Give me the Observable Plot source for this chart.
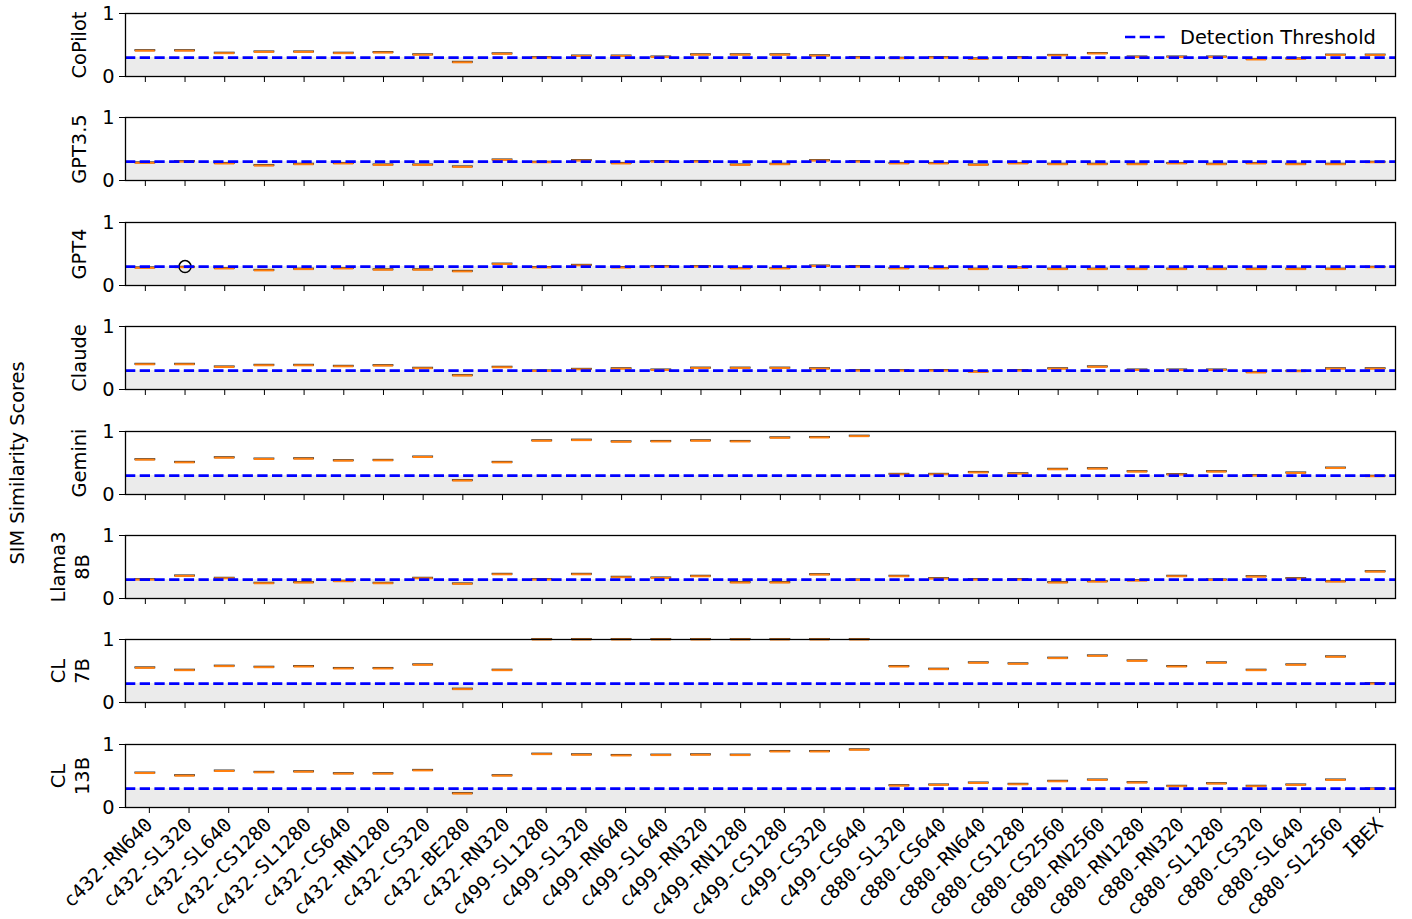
<!DOCTYPE html>
<html>
<head>
<meta charset="utf-8">
<script src="https://cdn.jsdelivr.net/npm/d3@7"></script>
<script src="https://cdn.jsdelivr.net/npm/@observablehq/plot@0.6"></script>
<style>
  html, body { margin: 0; padding: 0; background: white; }
  #root { position: relative; width: 1412px; height: 919px; overflow: hidden; font-family: "DejaVu Sans", sans-serif; }
  .panel { position: absolute; left: 0; }
  svg g[aria-label="x-axis tick label"] { font-family: "DejaVu Sans Mono", monospace; }
  #ylab { position: absolute; left: 17px; top: 463px; transform: translate(-50%, -50%) rotate(-90deg); white-space: nowrap; font-size: 19.4px; color: black; }
  #legend { position: absolute; left: 1122px; top: 24px; display: flex; align-items: center; font-size: 19.4px; }
</style>
</head>
<body>
<div id="root">
  <div id="ylab">SIM Similarity Scores</div>
</div>
<script>
const categories = ["c432-RN640","c432-SL320","c432-SL640","c432-CS1280","c432-SL1280","c432-CS640","c432-RN1280","c432-CS320","c432-BE280","c432-RN320","c499-SL1280","c499-SL320","c499-RN640","c499-SL640","c499-RN320","c499-RN1280","c499-CS1280","c499-CS320","c499-CS640","c880-SL320","c880-CS640","c880-RN640","c880-CS1280","c880-CS2560","c880-RN2560","c880-RN1280","c880-RN320","c880-SL1280","c880-CS320","c880-SL640","c880-SL2560","IBEX"];

const models = ["CoPilot","GPT3.5","GPT4","Claude","Gemini","Llama3\n8B","CL\n7B","CL\n13B"];

const copilot = [0.41,0.41,0.37,0.39,0.39,0.37,0.38,0.345,0.225,0.36,0.30,0.325,0.325,0.31,0.345,0.345,0.345,0.33,0.30,0.29,0.30,0.28,0.30,0.335,0.365,0.31,0.31,0.31,0.27,0.28,0.34,0.34];
const gpt35 = [0.28,0.30,0.27,0.237,0.258,0.27,0.247,0.247,0.216,0.326,0.29,0.316,0.27,0.30,0.30,0.247,0.258,0.316,0.30,0.27,0.27,0.247,0.27,0.258,0.258,0.258,0.27,0.258,0.27,0.258,0.258,0.29];
const gpt4 = [0.28,0.29,0.27,0.24,0.26,0.27,0.25,0.25,0.224,0.34,0.286,0.32,0.285,0.30,0.30,0.27,0.27,0.31,0.30,0.27,0.27,0.26,0.28,0.26,0.26,0.26,0.26,0.26,0.26,0.26,0.26,0.29];
const claude = [0.40,0.40,0.358,0.384,0.384,0.368,0.379,0.337,0.221,0.353,0.295,0.32,0.33,0.31,0.34,0.34,0.34,0.33,0.30,0.30,0.30,0.28,0.30,0.33,0.36,0.31,0.31,0.31,0.27,0.29,0.33,0.33];
const gemini = [0.553,0.51,0.584,0.563,0.568,0.537,0.542,0.595,0.221,0.51,0.853,0.863,0.837,0.842,0.853,0.842,0.90,0.905,0.926,0.32,0.32,0.35,0.33,0.40,0.41,0.363,0.316,0.363,0.30,0.342,0.42,0.29];
const llama3 = [0.30,0.358,0.321,0.242,0.253,0.274,0.242,0.321,0.232,0.384,0.30,0.384,0.337,0.326,0.353,0.253,0.253,0.379,0.295,0.353,0.316,0.30,0.30,0.253,0.268,0.284,0.353,0.295,0.347,0.316,0.268,0.426];
const cl7b = [0.55,0.513,0.577,0.56,0.571,0.54,0.54,0.598,0.212,0.513,1.0,1.0,1.0,1.0,1.0,1.0,1.0,1.0,1.0,0.571,0.529,0.63,0.614,0.704,0.74,0.661,0.571,0.63,0.513,0.598,0.725,0.30];
const cl13b = [0.547,0.505,0.579,0.558,0.568,0.537,0.537,0.589,0.221,0.505,0.847,0.837,0.826,0.832,0.837,0.832,0.889,0.889,0.916,0.347,0.358,0.389,0.368,0.416,0.437,0.395,0.337,0.379,0.337,0.358,0.437,0.295];

const seriesList = [copilot, gpt35, gpt4, claude, gemini, llama3, cl7b, cl13b];

// outliers (fliers)
const outlierModels = ["GPT4"];
const outlierCats = ["c432-SL320"];
const outlierValues = [0.30];

const threshold = 0.3;
const yTicks = [0, 1];
const boxHalf = 0.008;

const root = document.getElementById("root");
const step = 104.4;
const frameTop0 = 13;
const mTop = 10;

models.forEach((model, i) => {
  const last = i === models.length - 1;
  const vals = seriesList[i];
  const data = categories.map((c, j) => ({cat: c, v: vals[j]}));
  const outs = outlierModels.map((m, k) => ({m, cat: outlierCats[k], v: outlierValues[k]})).filter(d => d.m === model);
  const mBottom = last ? 113 : 31;
  const height = mTop + 63 + mBottom;
  const multi = model.includes("\n");
  const chart = Plot.plot({
    width: 1412,
    height,
    marginLeft: 125,
    marginRight: 17,
    marginTop: mTop,
    marginBottom: mBottom,
    style: {fontFamily: "DejaVu Sans", fontSize: "19.4px", background: "transparent", overflow: "visible", color: "black"},
    x: {type: "band", domain: categories, paddingInner: 0.5, paddingOuter: 0.25, round: false},
    y: {domain: [0, 1]},
    marks: [
      Plot.barY([threshold], {y1: 0, y2: d => d, fill: "#ebebeb"}),
      Plot.barY(data, {x: "cat", y1: d => d.v - boxHalf, y2: d => d.v + boxHalf, fill: "none", stroke: "#333", strokeWidth: 1}),
      Plot.tickY(data, {x: "cat", y: "v", stroke: "#ff7f0e", strokeWidth: 2}),
      Plot.dot(outs, {x: "cat", y: "v", r: 6, stroke: "black", fill: "none", strokeWidth: 1.5}),
      Plot.ruleY([threshold], {stroke: "blue", strokeWidth: 2.7, strokeDasharray: "10.3,4.4"}),
      Plot.frame({stroke: "black", strokeWidth: 1.3}),
      Plot.axisY({ticks: yTicks, tickSize: 6, tickPadding: 5, label: null, tickFormat: d3.format("d")}),
      last
        ? Plot.axisX({tickSize: 6, tickPadding: 8, tickRotate: -45, label: null, dx: 4})
        : Plot.axisX({tickSize: 6, tickFormat: () => "", label: null}),
      Plot.text([model], {frameAnchor: "left", dx: multi ? -37 : -40, rotate: -90, lineAnchor: "bottom", textAnchor: "middle", lineHeight: 1.2, fill: "black"})
    ]
  });
  const div = document.createElement("div");
  div.className = "panel";
  div.style.top = (frameTop0 + step * i - mTop) + "px";
  div.appendChild(chart);
  root.appendChild(div);
});

// legend
const leg = document.createElement("div");
leg.id = "legend";
leg.innerHTML = '<svg width="46" height="26" style="margin-right:12px"><line x1="3" y1="13" x2="45" y2="13" stroke="blue" stroke-width="2.7" stroke-dasharray="10.3,4.4"/></svg><span>Detection Threshold</span>';
root.appendChild(leg);
</script>
</body>
</html>
